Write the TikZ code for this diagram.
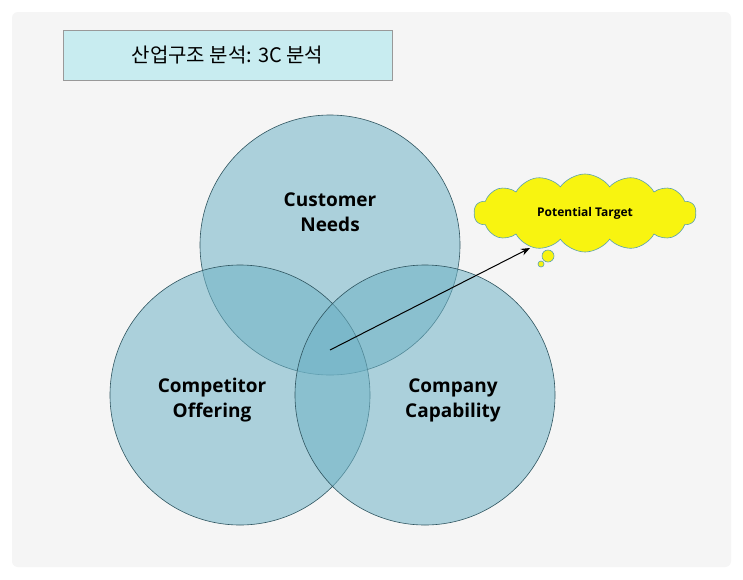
\documentclass[tikz,border=0pt]{standalone}
\usepackage{fontspec}
\setsansfont{Open Sans}
\newfontfamily\kr{Noto Sans CJK KR}
\usetikzlibrary{shapes.symbols,arrows.meta}
\definecolor{bg}{HTML}{F5F5F5}
\definecolor{tbox}{HTML}{C8ECF0}
\definecolor{circ}{HTML}{6FB3C6}
\definecolor{cedge}{HTML}{2F5560}
\definecolor{cloudy}{HTML}{F8F410}
\definecolor{cloude}{HTML}{5AA0B0}
\tikzset{
 venn/.style={circle,minimum size=260pt,draw=cedge,line width=0.6pt,fill=circ,fill opacity=0.55,draw opacity=1,inner sep=0},
 lab/.style={font=\sffamily\bfseries\fontsize{19}{25}\selectfont,align=center,text=black},
 bub/.style={circle,draw=cloude,fill=cloudy,inner sep=0,line width=0.6pt}
}
\begin{document}
\begin{tikzpicture}[x=1pt,y=-1pt]
\useasboundingbox (0,0) rectangle (743,579);
\fill[white] (0,0) rectangle (743,579);
\node[draw=none,fill=bg,rounded corners=6pt,minimum width=719pt,minimum height=555pt,inner sep=0] (bgr) at (371.5,289.5) {};
\node[draw=gray!80,fill=tbox,minimum width=329pt,minimum height=50pt,inner sep=0,font=\kr\fontsize{20}{24}\selectfont] (title) at (227.5,55) {산업구조 분석: 3C 분석};
\node[venn] (cn) at (330,245) {};
\node[venn] (co) at (240,395) {};
\node[venn] (cc) at (425,395) {};
\node[lab] (lcn) at (330,212) {Customer\\Needs};
\node[lab] (lco) at (212,400) {Competitor\\Offering};
\node[lab] (lcc) at (453,400) {Company\\Capability};
\node[cloud,cloud puffs=14,cloud puff arc=110,aspect=3,draw=cloude,fill=cloudy,line width=0.6pt,minimum width=222pt,minimum height=78pt,inner sep=0,font=\sffamily\bfseries\fontsize{12}{14}\selectfont] (cloud) at (585,213) {Potential Target};
\node[bub,minimum size=12pt] (b1) at (548,256) {};
\node[bub,minimum size=6pt] (b2) at (541,264) {};
\coordinate (s) at (330,350);
\coordinate (t) at (530,248);
\draw[-{Stealth[length=9pt,width=7pt]},line width=1pt] (s) -- (t);
\end{tikzpicture}
\end{document}
